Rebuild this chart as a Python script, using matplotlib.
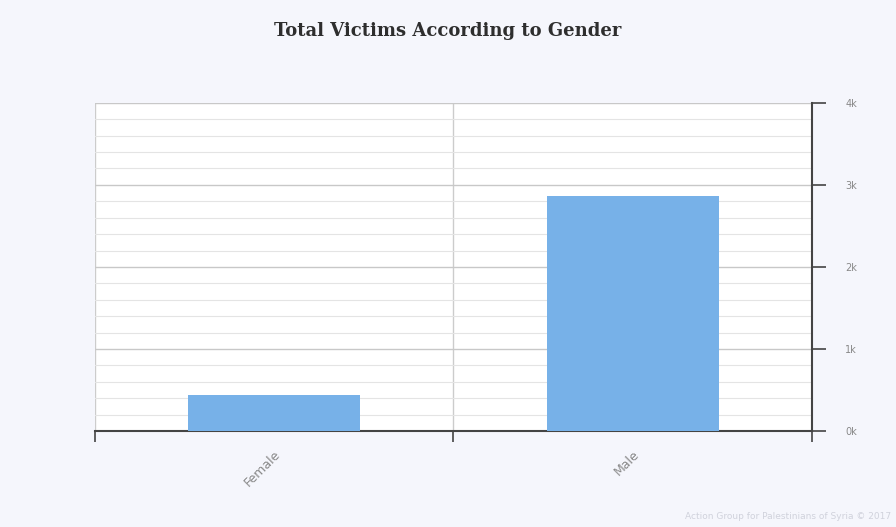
import matplotlib
matplotlib.use("Agg")
import matplotlib.pyplot as plt
from matplotlib.ticker import MultipleLocator, FuncFormatter

categories = ["Female", "Male"]
victims = [440, 2870]
ytick_values = [0, 1000, 2000, 3000, 4000]

fig = plt.figure(figsize=(8.96, 5.27), dpi=100)
fig.patch.set_facecolor("#f5f6fc")
ax = fig.add_axes([0.106, 0.182, 0.8, 0.623])
ax.set_facecolor("white")

x = list(range(len(categories)))
ax.bar(x, victims, width=0.48, color="#77b1e8", zorder=3)

ax.set_xlim(-0.5, len(categories) - 0.5)
ax.set_ylim(0, 4000)

# y axis on right
ax.yaxis.tick_right()
ax.set_yticks(ytick_values)
ax.yaxis.set_major_formatter(FuncFormatter(lambda v, p: f"{int(v/1000)}k"))
ax.yaxis.set_minor_locator(MultipleLocator(200))
ax.tick_params(axis="y", which="major", direction="out", length=10, width=1.2,
               color="#444444", labelcolor="#888888", labelsize=7, pad=14)
ax.tick_params(axis="y", which="minor", length=0)
ax.grid(axis="y", which="major", color="#c8c8c8", linewidth=1.0, zorder=0)
ax.grid(axis="y", which="minor", color="#e4e4e4", linewidth=0.8, zorder=0)

# x axis: boundary ticks + gridlines, labels at centers
ax.set_xticks([-0.5, 0.5, 1.5])
ax.set_xticklabels([])
ax.set_xticks(x, minor=True)
ax.set_xticklabels(categories, minor=True, rotation=45, ha="right",
                   rotation_mode="anchor", color="#888888", fontsize=9)
ax.tick_params(axis="x", which="major", direction="out", length=8, width=1.2, color="#444444")
ax.tick_params(axis="x", which="minor", length=0, pad=12)
ax.grid(axis="x", which="major", color="#cccccc", linewidth=1.0, zorder=0)

for s in ["top", "left"]:
    ax.spines[s].set_visible(False)
ax.spines["bottom"].set_color("#444444")
ax.spines["bottom"].set_linewidth(1.5)
ax.spines["right"].set_color("#444444")
ax.spines["right"].set_linewidth(1.5)

fig.text(0.5, 0.942, "Total Victims According to Gender", ha="center", va="center",
         fontsize=13, fontweight="bold", family="DejaVu Serif", color="#2e2e2e")
fig.text(0.995, 0.012, "Action Group for Palestinians of Syria © 2017", ha="right", va="bottom",
         fontsize=6.5, color="#d0d2dc")

fig.savefig("out.png", dpi=100, facecolor=fig.get_facecolor())
